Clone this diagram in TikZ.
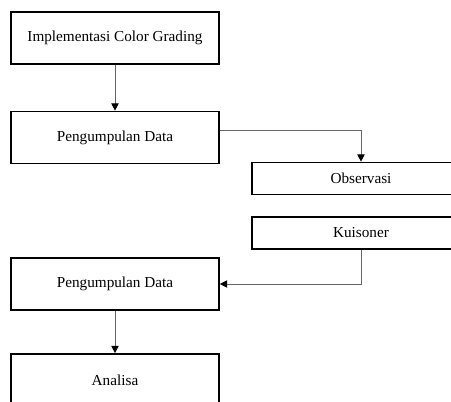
\documentclass[tikz,border=0pt]{standalone}
\usepackage{fontspec}
\setmainfont{Liberation Serif}
\usetikzlibrary{arrows.meta,positioning}

\begin{document}
\begin{tikzpicture}[
  x=0.03cm,y=-0.03cm,
  box/.style={draw,line width=1.4pt,fill=white,inner sep=0pt,minimum width=6.24cm,minimum height=1.56cm,font=\fontsize{13}{15}\selectfont},
  sbox/.style={box,minimum width=6.54cm,minimum height=0.96cm},
  conn/.style={draw=black!60,line width=0.8pt},
  arr/.style={conn,-{Triangle[length=2.2mm,width=2.2mm,color=black]}}
]
  \useasboundingbox (0,0) rectangle (451,402);
  \clip (0,0) rectangle (451,402);
  \node[box]  (impl)  at (115,38)  {Implementasi Color Grading};
  \node[box]  (data1) at (115,137.5) {Pengumpulan Data};
  \node[sbox] (obs)   at (361,178.5) {Observasi};
  \node[sbox] (kuis)  at (361,233) {Kuisoner};
  \node[box]  (data2) at (115,284) {Pengumpulan Data};
  \node[box]  (anl)   at (115,380) {Analisa};
  \draw[arr] (impl)--(data1);
  \draw[arr] ([yshift=0.2cm]data1.east) -| (obs.north);
  \draw[arr] (kuis.south) |- (data2.east);
  \draw[arr] (data2)--(anl);
\end{tikzpicture}
\end{document}
